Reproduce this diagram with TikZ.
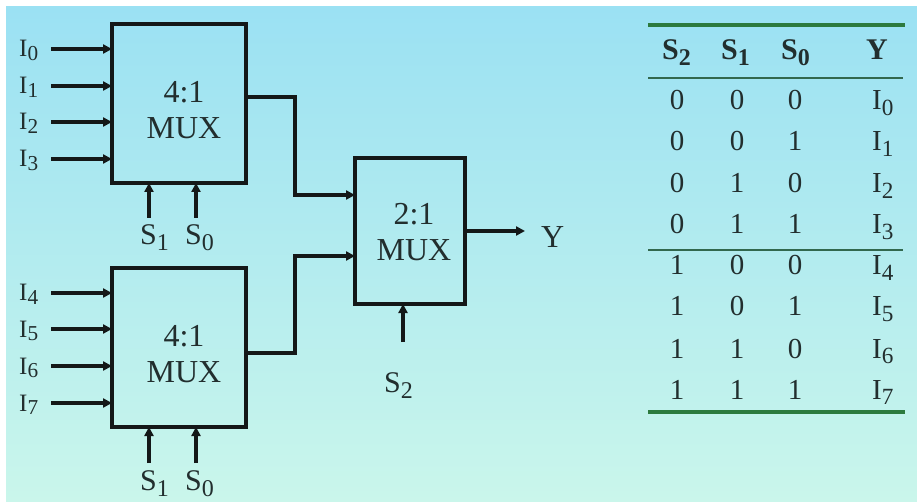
\documentclass[tikz,border=0pt]{standalone}
\usepackage{fontspec}
\setmainfont{Liberation Serif}
\usetikzlibrary{arrows.meta,calc}
\definecolor{bgtop}{RGB}{155,225,243}
\definecolor{bgbot}{RGB}{202,246,235}
\definecolor{ink}{RGB}{20,24,24}
\definecolor{txt}{RGB}{34,46,46}
\definecolor{rulegreen}{RGB}{44,122,62}
\definecolor{rulethin}{RGB}{50,104,78}
\newcommand\lowsub[1]{\raisebox{-0.2em}{\scalebox{0.8}{#1}}}
\newcommand\ilowsub[1]{\raisebox{-0.15em}{\scalebox{0.85}{#1}}}
\begin{document}
\begin{tikzpicture}[x=1pt,y=-1pt,
  muxbox/.style={draw=ink,line width=3.4pt,inner sep=0pt,outer sep=0pt,anchor=north west},
  bigbox/.style={muxbox,minimum width=134pt,minimum height=159pt},
  smallbox/.style={muxbox,minimum width=110pt,minimum height=146pt},
  muxtxt/.style={text=txt,align=center,inner sep=0pt,font=\fontsize{32}{36}\selectfont},
  arr/.style={draw=ink,line width=3.2pt,-{Triangle[length=9pt,width=9pt]}},
  wire/.style={draw=ink,line width=3.2pt,-{Triangle[length=9pt,width=9pt]}},
  ilab/.style={text=txt,inner sep=0pt,anchor=base west,font=\fontsize{25}{29}\selectfont},
  slab/.style={text=txt,inner sep=0pt,anchor=base west,font=\fontsize{30}{34}\selectfont},
  tcell/.style={text=txt,inner sep=0pt,anchor=base,font=\fontsize{29}{32}\selectfont},
  tcellw/.style={text=txt,inner sep=0pt,anchor=base west,font=\fontsize{29}{32}\selectfont},
  thead/.style={text=txt,inner sep=0pt,anchor=base west,font=\fontsize{30}{33}\selectfont\bfseries}]
\useasboundingbox (0,0) rectangle (917,502);
\fill[white] (0,0) rectangle (917,502);
\shade[top color=bgtop,bottom color=bgbot] (6,7) rectangle (917,502);

% boxes
\node[bigbox] (m1) at (112,24) {};
\node[bigbox] (m2) at (112,268) {};
\node[smallbox] (m3) at (355,158) {};
\node[muxtxt] (m1t) at (184,110) {4:1\\MUX};
\node[muxtxt] (m2t) at (184,354) {4:1\\MUX};
\node[muxtxt] (m3t) at (414,232) {2:1\\MUX};

% inputs of top mux
\foreach \y/\n in {49/0,86/1,122/2,159/3}{
  \node[ilab] (i\n) at (19,\y+8) {I\ilowsub{\n}};
  \coordinate (p\n) at (51,\y);
  \draw[arr] (p\n) -- (p\n -| m1.west);
}
\foreach \y/\n in {293/4,329/5,366/6,403/7}{
  \node[ilab] (i\n) at (19,\y+8) {I\ilowsub{\n}};
  \coordinate (p\n) at (51,\y);
  \draw[arr] (p\n) -- (p\n -| m2.west);
}

% select lines
\coordinate (sa1) at (149,218);
\coordinate (sb1) at (196,218);
\coordinate (sa2) at (149,463);
\coordinate (sb2) at (196,463);
\draw[arr] (sa1) -- (sa1 |- m1.south);
\draw[arr] (sb1) -- (sb1 |- m1.south);
\draw[arr] (sa2) -- (sa2 |- m2.south);
\draw[arr] (sb2) -- (sb2 |- m2.south);
\node[slab] (s1a) at (140,245) {S\lowsub{1}};
\node[slab] (s0a) at (185,245) {S\lowsub{0}};
\node[slab] (s1b) at (140,490) {S\lowsub{1}};
\node[slab] (s0b) at (185,490) {S\lowsub{0}};

% connections to 2:1 mux
\coordinate (in1) at ([yshift=36pt]m3.west);
\coordinate (in2) at ([yshift=-25pt]m3.west);
\draw[wire] ([yshift=6.5pt]m1.east) -| ($(in1)+(-60,0)$) -- (in1);
\draw[wire] ([yshift=-5.5pt]m2.east) -| ($(in2)+(-60,0)$) -- (in2);

% select of 2:1
\coordinate (s2p) at (403,342);
\draw[arr] (s2p) -- (s2p |- m3.south);
\node[slab] (s2l) at (384,392) {S\lowsub{2}};

% output
\coordinate (yo) at (525,231);
\draw[arr] (m3.east) -- (yo);
\node[slab,font=\fontsize{32}{36}\selectfont] (ylab) at (541,248) {Y};

% truth table
\draw[rulegreen,line width=3.5pt] (648,25) -- (905,25);
\draw[rulethin,line width=2pt] (648,78) -- (903,78);
\draw[rulethin,line width=2pt] (648,250) -- (903,250);
\draw[rulegreen,line width=4pt] (648,412) -- (905,412);
\node[thead] (h2) at (662,60) {S\lowsub{2}};
\node[thead] (h1) at (721,60) {S\lowsub{1}};
\node[thead] (h0) at (781,60) {S\lowsub{0}};
\node[thead] (hy) at (866,60) {Y};
\foreach \yb/\a/\b/\c [count=\k from 0] in {110/0/0/0,151/0/0/1,193/0/1/0,234/0/1/1,275/1/0/0,316/1/0/1,358/1/1/0,399/1/1/1}{
  \node[tcell] (ra\k) at (677,\yb) {\a};
  \node[tcell] (rb\k) at (737,\yb) {\b};
  \node[tcell] (rc\k) at (795,\yb) {\c};
  \node[tcellw] (ry\k) at (872,\yb) {I\lowsub{\k}};
}
\end{tikzpicture}
\end{document}
